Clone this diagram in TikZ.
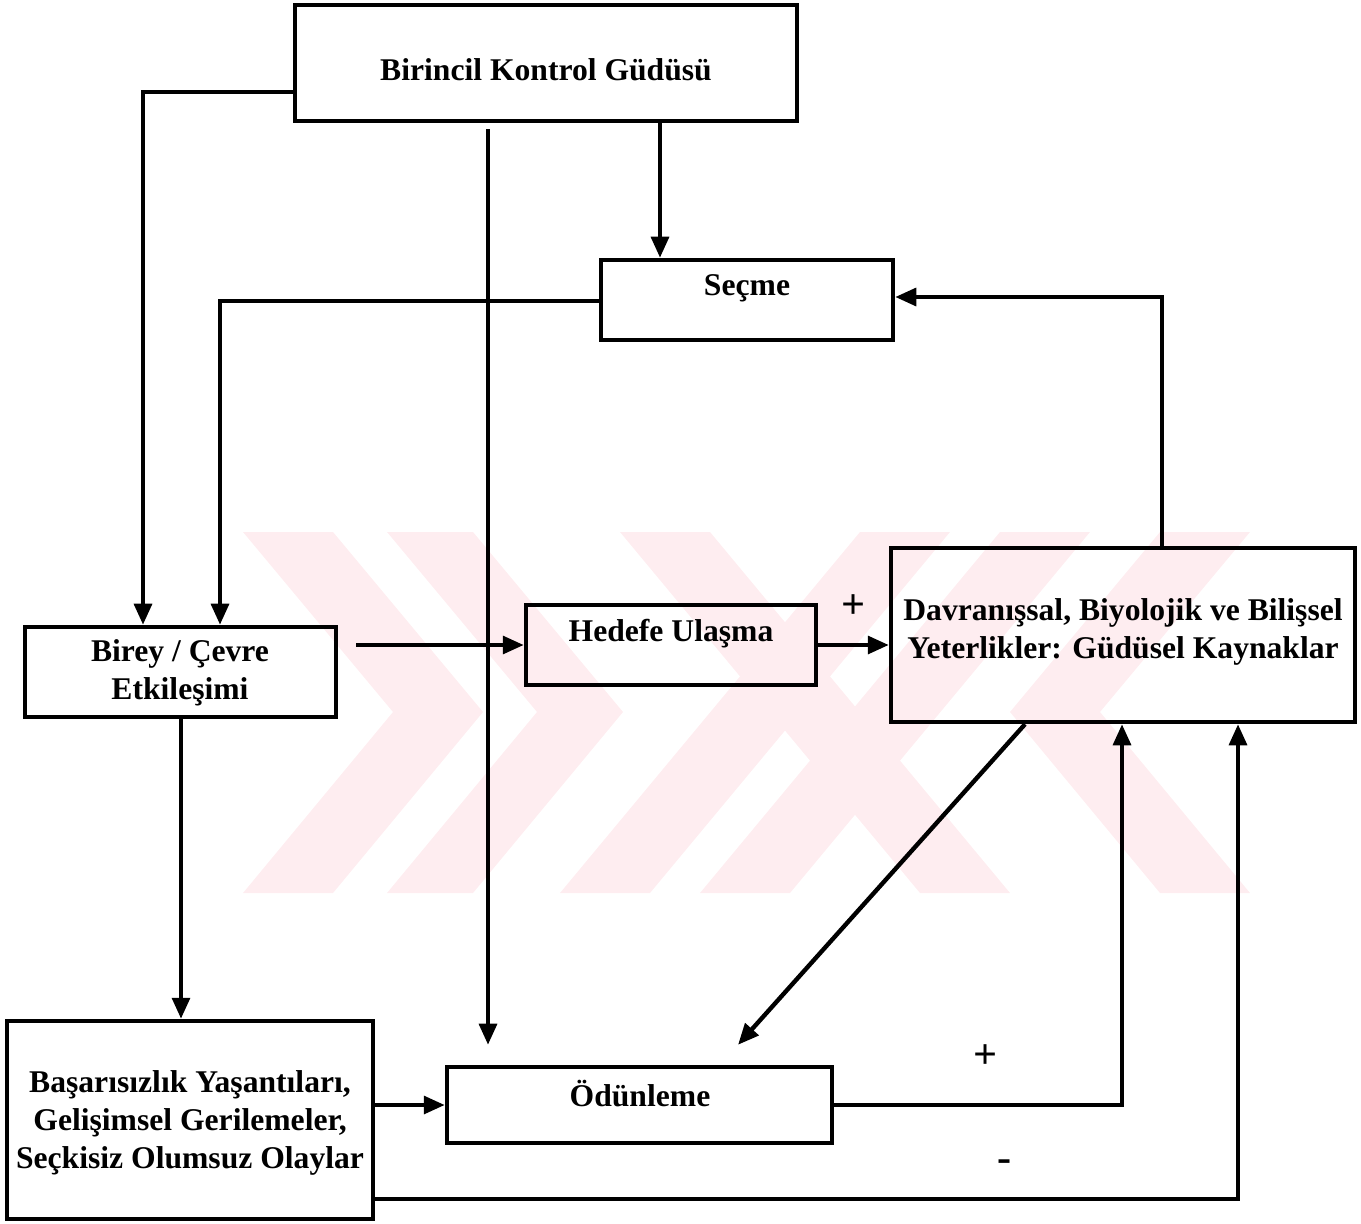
\documentclass[tikz,border=0pt]{standalone}
\usepackage{fontspec}
\setmainfont{Liberation Serif}
\usetikzlibrary{arrows.meta,calc}
\definecolor{wm}{RGB}{254,237,240}
\begin{document}
\begin{tikzpicture}[x=0.02cm,y=-0.02cm,
  box/.style={draw,line width=2.5pt,inner sep=0pt},
  arr/.style={line width=2.5pt,-{Triangle[length=12pt,width=10pt]}},
  lbl/.style={font=\fontsize{18}{21.5}\selectfont\bfseries,align=center,inner sep=0pt},
  sgn/.style={font=\fontsize{24}{26}\selectfont\bfseries,inner sep=0pt}]
\useasboundingbox (0,0) rectangle (1361,1223);
% watermark
\begin{scope}
\fill[wm] (243,532)--(333,532)--(483,712)--(333,893)--(243,893)--(393,712)--cycle;
\fill[wm] (387,532)--(473,532)--(623,712)--(473,893)--(387,893)--(537,712)--cycle;
\fill[wm] (560,893)--(650,893)--(950,532)--(860,532)--cycle;
\fill[wm] (700,893)--(790,893)--(1090,532)--(1000,532)--cycle;
\fill[wm] (620,532)--(710,532)--(1010,893)--(920,893)--cycle;
\fill[wm] (1250,532)--(1160,532)--(1010,712)--(1160,893)--(1250,893)--(1100,712)--cycle;
\end{scope}
% boxes
\node[box,minimum width=10.04cm,minimum height=2.32cm] (bk) at (546,63) {};
\node[box,minimum width=5.84cm,minimum height=1.6cm] (secme) at (747,300) {};
\node[box,minimum width=6.22cm,minimum height=1.8cm] (birey) at (180.5,672) {};
\node[box,minimum width=5.8cm,minimum height=1.6cm] (hedef) at (671,645) {};
\node[box,minimum width=9.28cm,minimum height=3.48cm] (kay) at (1123,635) {};
\node[box,minimum width=7.32cm,minimum height=3.96cm] (bas) at (190,1120) {};
\node[box,minimum width=7.7cm,minimum height=1.52cm] (odun) at (639.5,1105) {};
% texts
\node[lbl] (tbk) at (546,70) {Birincil Kontrol Güdüsü};
\node[lbl] (tsecme) at (747,288) {Seçme};
\node[lbl] (tbirey) at (180,673) {Birey / Çevre\\Etkileşimi};
\node[lbl] (thedef) at (671,634) {Hedefe Ulaşma};
\node[lbl] (tkay) at (1123,632) {Davranışsal, Biyolojik ve Bilişsel\\Yeterlikler: Güdüsel Kaynaklar};
\node[lbl] (tbas) at (190,1123) {Başarısızlık Yaşantıları,\\Gelişimsel Gerilemeler,\\Seçkisiz Olumsuz Olaylar};
\node[lbl] (todun) at (640,1094) {Ödünleme};
% signs
\node[sgn] (p1) at (853,607) {+};
\node[sgn] (p2) at (985,1057) {+};
\node[sgn] (m1) at (1005,1166) {-};
% connectors
\draw[arr] (bk.west |- 0,92) -| (birey.north -| 143,0);
\draw[arr] ($(bk.south -| 488,0)+(0,6)$) -- ($(odun.north -| 488,0)+(0,-20)$);
\draw[arr] (bk.south -| 660,0) -- (secme.north -| 660,0);
\draw[arr] (secme.west |- 0,301) -| (birey.north -| 220,0);
\draw[arr] ($(birey.east |- 0,645)+(18,0)$) -- (hedef.west |- 0,645);
\draw[arr] (hedef.east) -- (kay.west |- hedef.east);
\draw[arr] (kay.north -| 1162,0) |- (secme.east |- 0,297);
\draw[arr] (kay.south -| 1025,0) -- ($(odun.north -| 738,0)+(0,-20)$);
\draw[arr] (birey.south -| 181,0) -- (bas.north -| 181,0);
\draw[arr] (bas.east |- 0,1105) -- (odun.west |- 0,1105);
\draw[arr] (odun.east) -| (kay.south -| 1122,0);
\draw[arr] (bas.east |- 0,1199) -| (kay.south -| 1238,0);
\end{tikzpicture}
\end{document}
